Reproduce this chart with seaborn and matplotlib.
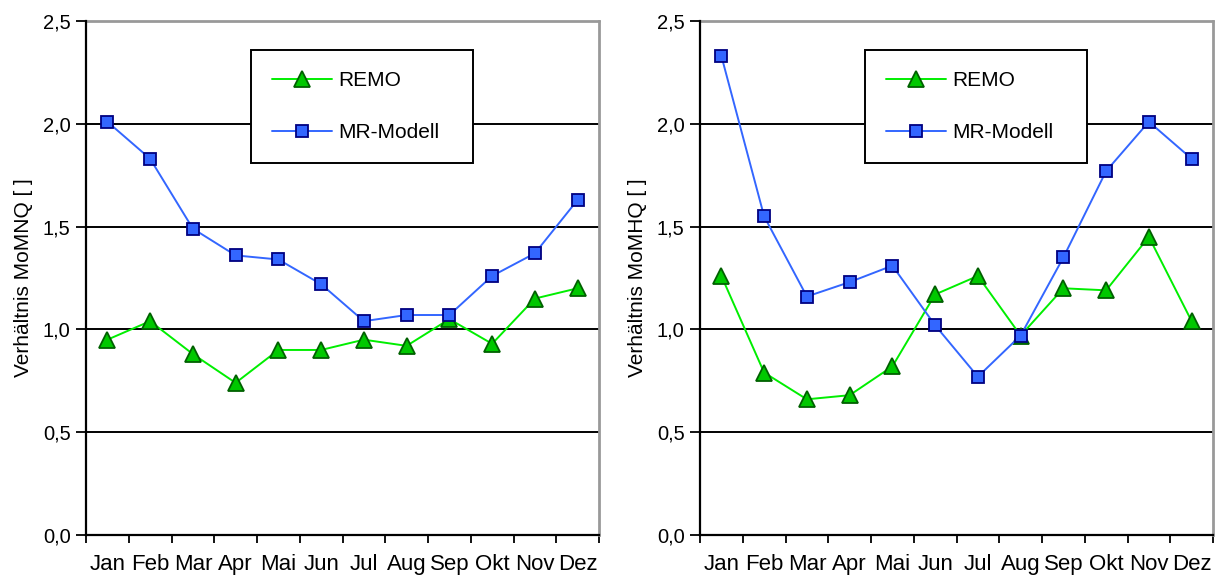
import matplotlib
matplotlib.use("Agg")
import matplotlib.pyplot as plt
import seaborn as sns
import pandas as pd
from matplotlib.ticker import FixedLocator, FuncFormatter

months = ["Jan", "Feb", "Mar", "Apr", "Mai", "Jun", "Jul", "Aug", "Sep", "Okt", "Nov", "Dez"]

remo_mnq = [0.95, 1.04, 0.88, 0.74, 0.90, 0.90, 0.95, 0.92, 1.05, 0.93, 1.15, 1.20]
mr_mnq = [2.01, 1.83, 1.49, 1.36, 1.34, 1.22, 1.04, 1.07, 1.07, 1.26, 1.37, 1.63]

remo_mhq = [1.26, 0.79, 0.66, 0.68, 0.82, 1.17, 1.26, 0.97, 1.20, 1.19, 1.45, 1.04]
mr_mhq = [2.33, 1.55, 1.16, 1.23, 1.31, 1.02, 0.77, 0.97, 1.35, 1.77, 2.01, 1.83]

series_names = ["REMO", "MR-Modell"]
ylabels = ["Verhältnis MoMNQ [ ]", "Verhältnis MoMHQ [ ]"]

sns.set_theme(style="white")
plt.rcParams["font.family"] = ["Liberation Sans", "DejaVu Sans"]
plt.rcParams["text.color"] = "black"
plt.rcParams["axes.labelcolor"] = "black"
plt.rcParams["xtick.color"] = "black"
plt.rcParams["ytick.color"] = "black"

fig = plt.figure(figsize=(12.23, 5.79), dpi=100)
ax1 = fig.add_axes([86 / 1223, 1 - 535 / 579, 513 / 1223, 514 / 579])
ax2 = fig.add_axes([700 / 1223, 1 - 535 / 579, 513 / 1223, 514 / 579])

styles = {
    "REMO": dict(color="#00ee00", marker="^", ms=11, mfc="#00c800", mec="#006000"),
    "MR-Modell": dict(color="#3366ff", marker="s", ms=9, mfc="#3366ff", mec="#000080"),
}

datasets = [(ax1, remo_mnq, mr_mnq, ylabels[0]), (ax2, remo_mhq, mr_mhq, ylabels[1])]

for ax, remo, mr, ylab in datasets:
    df = pd.DataFrame({
        "Monat": months * 2,
        "Wert": remo + mr,
        "Serie": [series_names[0]] * 12 + [series_names[1]] * 12,
    })
    for name in series_names:
        st = styles[name]
        sub = df[df["Serie"] == name]
        sns.lineplot(data=sub, x="Monat", y="Wert", ax=ax, sort=False,
                     color=st["color"], marker=st["marker"], markersize=st["ms"],
                     markerfacecolor=st["mfc"], markeredgecolor=st["mec"],
                     markeredgewidth=1.3, linewidth=1.4, label=name, zorder=3)
    ax.set_xlim(-0.5, 11.5)
    ax.set_ylim(0, 2.5)
    ax.set_yticks([0, 0.5, 1.0, 1.5, 2.0, 2.5])
    ax.yaxis.set_major_formatter(FuncFormatter(lambda v, p: f"{v:.1f}".replace(".", ",")))
    for yv in [0.5, 1.0, 1.5, 2.0]:
        ax.axhline(yv, color="black", linewidth=1.4, zorder=1)
    ax.axhline(2.5, color="#999999", linewidth=2, zorder=1, clip_on=False)
    ax.set_xticks(range(12))
    ax.set_xticklabels(months, fontsize=16)
    ax.xaxis.set_minor_locator(FixedLocator([i - 0.5 for i in range(13)]))
    ax.tick_params(axis="x", which="major", length=0, pad=14, labelcolor="black")
    ax.tick_params(axis="x", which="minor", length=6, width=1.3, color="black", direction="out", bottom=True)
    ax.tick_params(axis="y", which="major", length=7, width=1.3, color="black", direction="out", left=True,
                   labelsize=14.5, pad=4, labelcolor="black")
    for s in ["left", "bottom"]:
        ax.spines[s].set_color("black")
        ax.spines[s].set_linewidth(1.6)
    ax.spines["top"].set_visible(False)
    ax.spines["right"].set_color("#999999")
    ax.spines["right"].set_linewidth(2)
    ax.set_xlabel("")
    ax.set_ylabel(ylab, fontsize=15, labelpad=7, color="black")
    ax.grid(False)
    leg = ax.legend(loc="upper left", bbox_to_anchor=(0.322, 0.733, 0.432, 0.21), mode="expand",
                    frameon=True, fancybox=False, edgecolor="black", facecolor="white",
                    fontsize=15, handlelength=2.9, handletextpad=0.3, borderpad=1.0,
                    labelspacing=1.6, borderaxespad=0)
    for t in leg.get_texts():
        t.set_color("black")
    leg.get_frame().set_linewidth(1.4)
    leg.get_frame().set_alpha(1)
    leg.set_zorder(5)

fig.savefig("out.png", dpi=100, facecolor="white")
